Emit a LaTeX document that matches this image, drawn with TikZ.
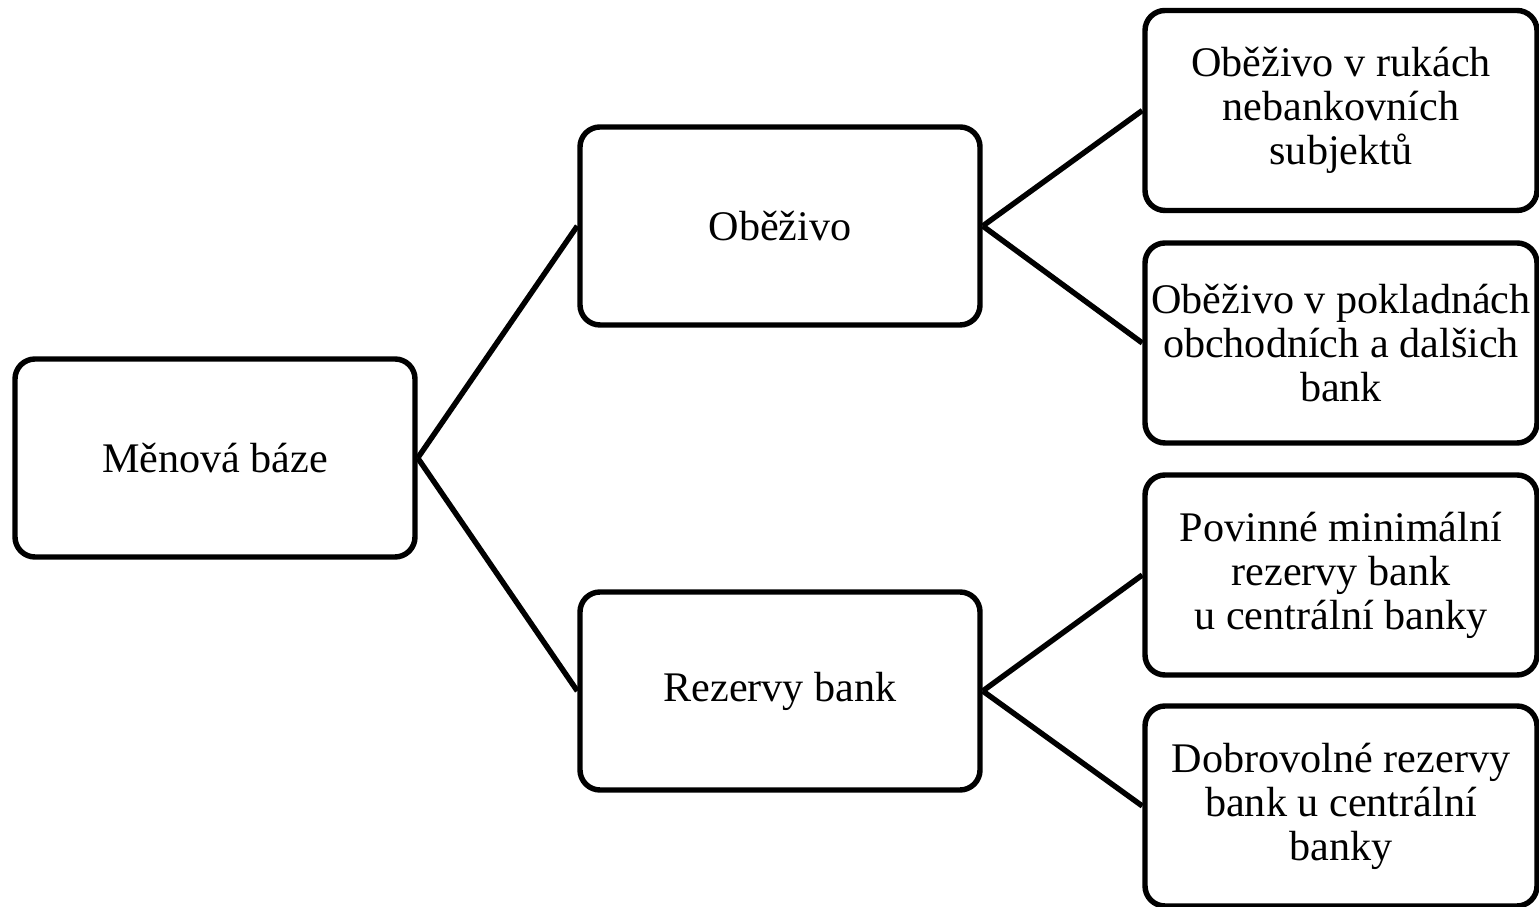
\documentclass[tikz,border=0pt]{standalone}
\usepackage{fontspec}
\setmainfont{Liberation Serif}
\usetikzlibrary{shapes.geometric, arrows}
\tikzstyle{basebox} = [rectangle, rounded corners=0.4cm, 
minimum width=8cm, 
minimum height=3.96cm,
text centered, 
align=center,
draw=black, 
line width=3.1pt,
font=\fontsize{24}{25}\selectfont]
\tikzstyle{leafbox} = [basebox, 
minimum width=7.84cm, 
minimum height=4cm, 
inner sep=1pt]
\tikzstyle{link} = [line width=3.1pt]
\begin{document}
\begin{tikzpicture} [node distance=11.3cm]
		\useasboundingbox (0,0) rectangle (30.78,18.14);
		\node (baze) [basebox] at (4.3,8.98) {Měnová báze};
		\node (obez) [basebox, right of=baze, yshift=4.64cm] {Oběživo};
		\node (rez) [basebox, right of=baze, yshift=-4.66cm] {Rezervy bank};
		\node (obez1) [leafbox, right of=obez, node distance=11.22cm, yshift=2.31cm] {Oběživo v rukách\\nebankovních\\subjektů};
		\node (obez2) [leafbox, right of=obez, node distance=11.22cm, yshift=-2.34cm] {Oběživo v pokladnách\\obchodních a dalšich\\bank};
		\node (rez1) [leafbox, right of=rez, node distance=11.22cm, yshift=2.32cm] {Povinné minimální\\rezervy bank\\u centrální banky};
		\node (rez2) [leafbox, right of=rez, node distance=11.22cm, yshift=-2.3cm] {Dobrovolné rezervy\\bank u centrální\\banky};
		\draw [link] (baze.east) -- (obez.west);
		\draw [link] (baze.east) -- (rez.west);
		\draw [link] (obez.east) -- (obez1.west);
		\draw [link] (obez.east) -- (obez2.west);
		\draw [link] (rez.east) -- (rez1.west);
		\draw [link] (rez.east) -- (rez2.west);
	\end{tikzpicture}
\end{document}
